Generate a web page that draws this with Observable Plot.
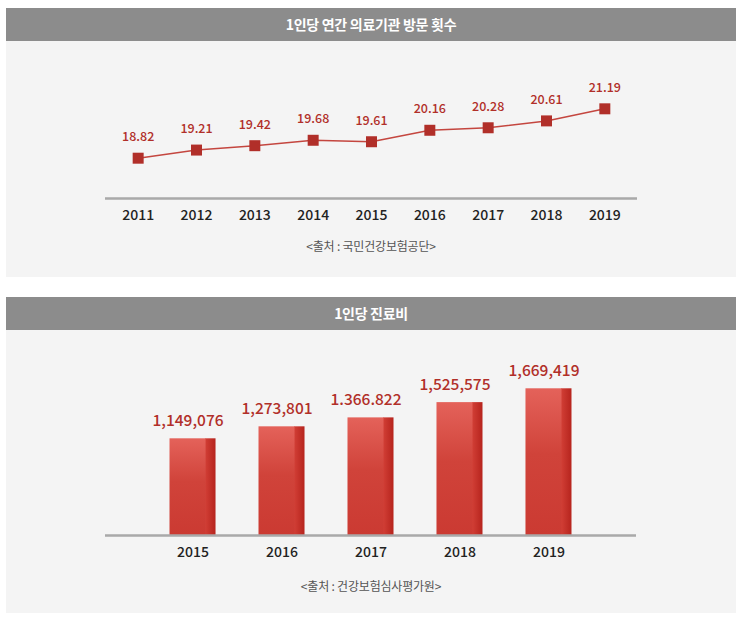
<!DOCTYPE html>
<html>
<head>
<meta charset="utf-8">
<script src="https://cdn.jsdelivr.net/npm/d3@7"></script>
<script src="https://cdn.jsdelivr.net/npm/@observablehq/plot@0.6"></script>
<style>
  html, body { margin: 0; padding: 0; background: #ffffff; }
  body { font-family: "Noto Sans CJK KR", "Noto Sans", sans-serif; width: 742px; height: 624px; position: relative; }
  .block { position: absolute; left: 6px; width: 730px; }
  .head { height: 33px; line-height: 33px; background: #8c8c8c; color: #ffffff; font-weight: bold; font-size: 14px; text-align: center; letter-spacing: -0.3px; }
  .panel { position: relative; background: #f4f4f4; }
  .panel svg { position: absolute; left: 0; top: 0; }
  .cap { position: absolute; left: 0; width: 730px; text-align: center; font-size: 12px; color: #555555; line-height: 16px; letter-spacing: -0.2px; }
</style>
</head>
<body>
<div class="block" style="top:8px">
  <div class="head">1인당 연간 의료기관 방문 횟수</div>
  <div class="panel" id="p1" style="height:236px">
    <div class="cap" style="top:197px">&lt;출처 : 국민건강보험공단&gt;</div>
  </div>
</div>
<div class="block" style="top:297px">
  <div class="head">1인당 진료비</div>
  <div class="panel" id="p2" style="height:283px">
    <div class="cap" style="top:248px">&lt;출처 : 건강보험심사평가원&gt;</div>
  </div>
</div>
<script>
const FONT = '"Noto Sans CJK KR", "Noto Sans", sans-serif';

// Chart 1: 1인당 연간 의료기관 방문 횟수
const visitYears = ["2011", "2012", "2013", "2014", "2015", "2016", "2017", "2018", "2019"];
const visitCounts = [18.82, 19.21, 19.42, 19.68, 19.61, 20.16, 20.28, 20.61, 21.19];

// Chart 2: 1인당 진료비
const costYears = ["2015", "2016", "2017", "2018", "2019"];
const costValues = [1149076, 1273801, 1366822, 1525575, 1669419];
const costLabels = ["1,149,076", "1,273,801", "1.366.822", "1,525,575", "1,669,419"];

const visits = visitYears.map((year, i) => ({year, count: visitCounts[i]}));
const costs = costYears.map((year, i) => ({year, value: costValues[i], label: costLabels[i]}));

const RED = "#b12f29";
const visitDomain = [16.886, 24.42];
const costDomain = [143000, 2276000];

const chart1 = Plot.plot({
  width: 730, height: 190,
  marginLeft: 99, marginRight: 99, marginTop: 0, marginBottom: 33,
  style: {background: "transparent", fontFamily: FONT},
  x: {type: "point", domain: visitYears, padding: 0.56, round: false},
  y: {domain: visitDomain, axis: null},
  marks: [
    Plot.ruleY([visitDomain[0]], {stroke: "#a9a9a9", strokeWidth: 2.5}),
    Plot.axisX({tickSize: 0, tickPadding: 11.3, fontSize: 14, fontWeight: 500, fill: "#222222", label: null}),
    Plot.line(visits, {x: "year", y: "count", stroke: "#c4463f", strokeWidth: 1.5}),
    Plot.dot(visits, {x: "year", y: "count", symbol: "square", r: 6.2, fill: RED}),
    Plot.text(visits, {x: "year", y: "count", text: d => d.count.toFixed(2), dy: -21, fill: RED, fontSize: 12.5, fontWeight: 500})
  ]
});
document.getElementById("p1").prepend(chart1);

const chart2 = Plot.plot({
  width: 730, height: 240,
  marginLeft: 99, marginRight: 100, marginTop: 0, marginBottom: 35,
  style: {background: "transparent", fontFamily: FONT},
  x: {type: "band", domain: costYears, paddingInner: 0.483, paddingOuter: 0.725, round: false},
  y: {domain: costDomain, axis: null},
  marks: [
    Plot.barY(costs, {x: "year", y1: costDomain[0], y2: "value", insetLeft: 35.5, fill: "url(#sideGrad)", ariaLabel: "bar-side"}),
    Plot.barY(costs, {x: "year", y1: costDomain[0], y2: "value", insetRight: 10, fill: "url(#frontGrad)"}),
    Plot.ruleY([costDomain[0]], {stroke: "#a9a9a9", strokeWidth: 2.5}),
    Plot.axisX({tickSize: 0, tickPadding: 11.7, fontSize: 14, fontWeight: 500, fill: "#222222", label: null}),
    Plot.text(costs, {x: "year", y: "value", text: "label", dy: -18, dx: -5, fill: RED, fontSize: 15.5, fontWeight: 500})
  ]
});
document.getElementById("p2").prepend(chart2);

// gradients for the 3D-looking bars
const svg2 = d3.select(chart2);
const defs = svg2.insert("defs", ":first-child");
const fg = defs.append("linearGradient").attr("id", "frontGrad").attr("x1", 0).attr("y1", 0).attr("x2", 0).attr("y2", 1);
[[0, "#e4625a"], [0.45, "#d0433a"], [1, "#cb3a32"]].forEach(([o, c]) => fg.append("stop").attr("offset", o).attr("stop-color", c));
const sg = defs.append("linearGradient").attr("id", "sideGrad").attr("x1", 0).attr("y1", 0).attr("x2", 1).attr("y2", 0);
[[0, "#d23f36"], [1, "#b6241d"]].forEach(([o, c]) => sg.append("stop").attr("offset", o).attr("stop-color", c));

// slant the top of each side face
svg2.selectAll('g[aria-label="bar-side"] rect').each(function() {
  const r = d3.select(this);
  const x = +r.attr("x"), y = +r.attr("y"), w = +r.attr("width"), h = +r.attr("height");
  const slope = w / 2;
  d3.select(this.parentNode).append("path")
    .attr("d", `M${x},${y}L${x + w},${y + slope}L${x + w},${y + h}L${x},${y + h}Z`)
    .attr("fill", "url(#sideGrad)");
  r.remove();
});
</script>
</body>
</html>
